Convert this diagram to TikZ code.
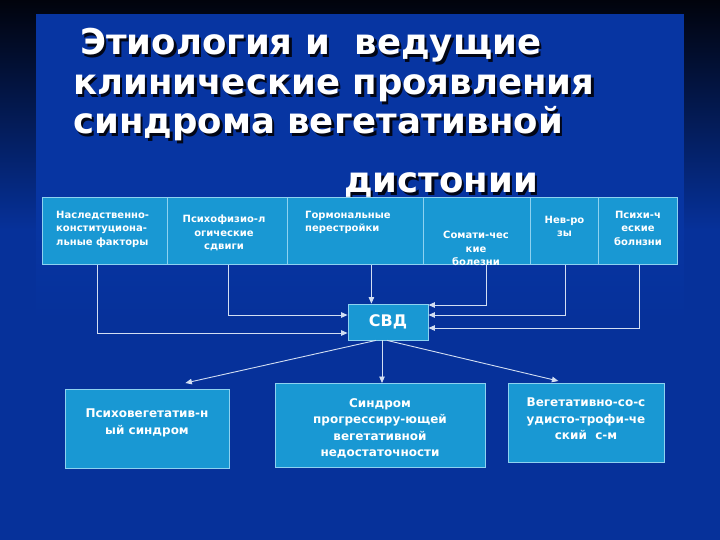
\documentclass[tikz,border=0pt]{standalone}
\usepackage{fontspec}
\setmainfont{DejaVu Sans}
\usepackage{tikz}
\usetikzlibrary{positioning,arrows.meta}
\definecolor{bgtop}{HTML}{01030C}
\definecolor{slideblue}{HTML}{06319A}
\definecolor{panelblue}{HTML}{0735A2}
\definecolor{cellcol}{HTML}{1998D3}
\definecolor{edgecol}{HTML}{8ED2F0}
\definecolor{linkcol}{HTML}{D2DEF2}
\definecolor{shadowcol}{HTML}{020616}
\newcommand{\shadowed}[1]{\rlap{\hspace{2.5pt}\raisebox{-2.5pt}{\textcolor{shadowcol}{#1}}}#1}

\begin{document}
\begin{tikzpicture}[x=1pt,y=-1pt,
    cell/.style={draw=edgecol,fill=cellcol,line width=0.8pt,anchor=north west,inner sep=0,minimum height=67pt},
    celltext/.style={text=white,inner sep=0,anchor=north,font=\fontsize{10}{13.5}\selectfont\bfseries},
    outbox/.style={draw=edgecol,fill=cellcol,line width=0.8pt,anchor=north west,inner sep=0},
    outtext/.style={text=white,inner sep=0,anchor=north,align=center,font=\fontsize{12}{16.5}\selectfont\bfseries},
    titletxt/.style={text=white,inner sep=0,anchor=base west,font=\fontsize{35.5}{40}\selectfont\bfseries},
    link/.style={draw=linkcol,line width=0.9pt},
    arr/.style={link,-{Triangle[length=6.5pt,width=5.5pt]}}
  ]
  \useasboundingbox (0,0) rectangle (720,540);
  % background
  \shade[top color=bgtop,bottom color=slideblue] (0,0) rectangle (720,230);
  \fill[slideblue] (0,229) rectangle (720,540);
  \fill[panelblue] (36,14) rectangle (684,230);
  \shade[top color=panelblue,bottom color=slideblue] (36,229) rectangle (684,320);

  % title
  \node[titletxt] (t1) at (80,55) {\shadowed{Этиология и~~ведущие}};
  \node[titletxt] (t2) at (73,95) {\shadowed{клинические проявления}};
  \node[titletxt] (t3) at (73,134) {\shadowed{синдрома вегетативной}};
  \node[titletxt] (t4) at (344,193) {\shadowed{дистонии}};

  % causes
  \node[cell,minimum width=125pt] (c1) at (42,197) {};
  \node[cell,minimum width=120pt] (c2) at (167,197) {};
  \node[cell,minimum width=136pt] (c3) at (287,197) {};
  \node[cell,minimum width=107pt] (c4) at (423,197) {};
  \node[cell,minimum width=68pt] (c5) at (530,197) {};
  \node[cell,minimum width=79pt] (c6) at (598,197) {};

  \node[celltext,anchor=north west,align=left] (c1t) at (56,211) {Наследственно-\\конституциона-\\льные факторы};
  \node[celltext,align=center] (c2t) at (224,215) {Психофизио-л\\огические\\сдвиги};
  \node[celltext,anchor=north west,align=left] (c3t) at (305,211) {Гормональные\\перестройки};
  \node[celltext,align=center] (c4t) at (476,231) {Сомати-чес\\кие\\болезни};
  \node[celltext,align=center] (c5t) at (564.5,216) {Нев-ро\\зы};
  \node[celltext,align=center] (c6t) at (638,211) {Психи-ч\\еские\\болнзни};

  % centre
  \node[outbox,anchor=center,minimum width=80pt,minimum height=36pt,
        font=\fontsize{16}{18}\selectfont\bfseries,text=white] (svd) at (388,322) {СВД};

  % outcomes
  \node[outbox,minimum width=164pt,minimum height=79pt] (psy) at (65,389) {};
  \node[outbox,minimum width=210pt,minimum height=84pt] (prog) at (275,383) {};
  \node[outbox,minimum width=156pt,minimum height=79pt] (veg) at (508,383) {};
  \node[outtext] (psyt) at (147,409) {Психовегетатив-н\\ый синдром};
  \node[outtext] (progt) at (380,398) {Синдром\\прогрессиру-ющей\\вегетативной\\недостаточности};
  \node[outtext] (vegt) at (586,398) {Вегетативно-со-с\\удисто-трофи-че\\ский~~с-м};

  % links in
  \draw[arr] ([xshift=-7.5pt]c1.south) |- ([yshift=-11pt]svd.west);
  \draw[arr] ([xshift=1pt]c2.south) |- ([yshift=7pt]svd.west);
  \draw[arr] ([xshift=16pt]c3.south) -- ([xshift=16pt]c3.south |- svd.north);
  \draw[arr] ([xshift=9.5pt]c4.south) |- ([yshift=17pt]svd.east);
  \draw[arr] ([xshift=1pt]c5.south) |- ([yshift=7pt]svd.east);
  \draw[arr] ([xshift=1.5pt]c6.south) |- ([yshift=-6pt]svd.east);

  % links out
  \draw[arr] ([xshift=-12pt]svd.south) -- ([xshift=38pt,yshift=6pt]psy.north);
  \draw[arr] ([xshift=-6pt]svd.south) -- ([xshift=-6pt]svd.south |- prog.north);
  \draw[arr] ([xshift=-1pt]svd.south) -- ([xshift=-28pt,yshift=2pt]veg.north);
\end{tikzpicture}
\end{document}
